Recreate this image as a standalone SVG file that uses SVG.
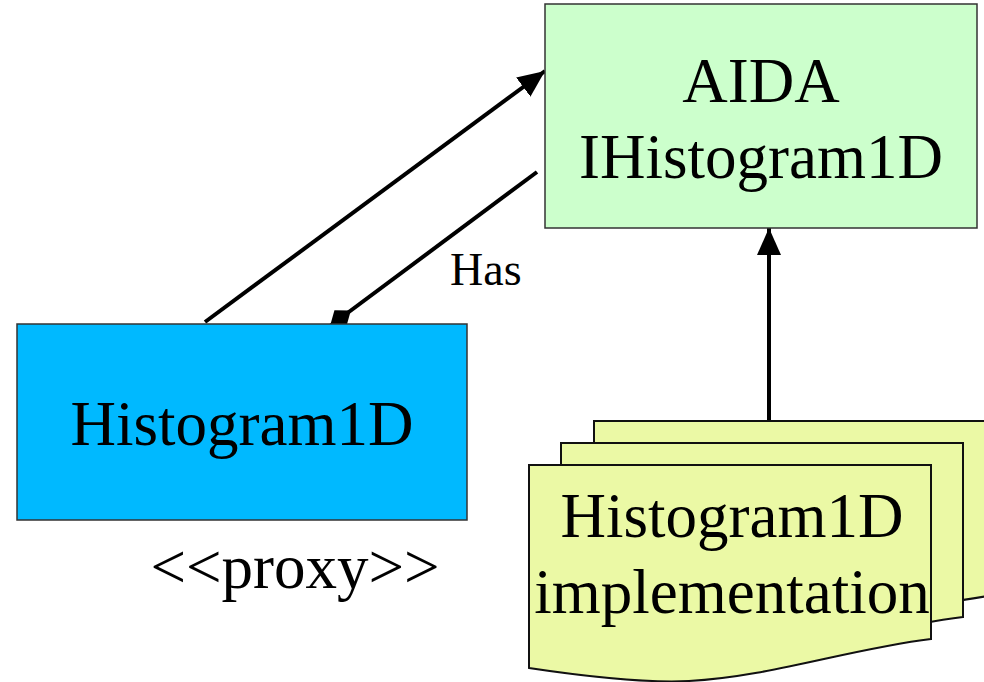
<svg xmlns="http://www.w3.org/2000/svg" width="984" height="682" viewBox="0 0 984 682">
<defs>
<style>
.box{stroke:#333;stroke-width:1.5}
.lbl{font-family:"Liberation Serif","Times New Roman",serif;font-size:63px;fill:#000;text-anchor:middle}
.conn{stroke:#000;stroke-width:4;fill:none}
.page{fill:#EBF9A5;stroke:#111;stroke-width:2}
</style>
<marker id="arrow" viewBox="0 -13 28 26" refX="27" refY="0" markerWidth="28" markerHeight="26" markerUnits="userSpaceOnUse" orient="auto">
<path d="M0,-12 L27,0 L0,12 Z" fill="#000"/>
</marker>
<marker id="diamond" viewBox="0 -11 27 22" refX="26" refY="0" markerWidth="27" markerHeight="22" markerUnits="userSpaceOnUse" orient="auto">
<path d="M0,0 L13,-10 L26,0 L13,10 Z" fill="#000"/>
</marker>
<path id="pageShape" d="M0,0 H402 V174 C320,184 240,212 160,216 C120,218 60,212 0,203 Z"/>
</defs>
<rect width="984" height="682" fill="#fff"/>
<g id="connectors">
<line class="conn" x1="205" y1="322" x2="545" y2="71" marker-end="url(#arrow)"/>
<line class="conn" x1="537" y1="172" x2="330" y2="326" marker-end="url(#diamond)"/>
<line class="conn" x1="769" y1="421" x2="769" y2="228" marker-end="url(#arrow)"/>
<text x="450" y="285" font-family="Liberation Serif, Times New Roman, serif" font-size="46">Has</text>
</g>
<g id="aida">
<rect class="box" x="545" y="4" width="432" height="224" fill="#CCFFCC"/>
<text class="lbl" x="761" y="102">AIDA</text>
<text class="lbl" x="761" y="178">IHistogram1D</text>
</g>
<g id="proxy">
<rect class="box" x="17" y="324" width="450" height="196" fill="#00B9FF"/>
<text class="lbl" x="242" y="445">Histogram1D</text>
<text class="lbl" x="295" y="588">&lt;&lt;proxy&gt;&gt;</text>
</g>
<g id="implementation">
<use href="#pageShape" class="page" transform="translate(594,421)"/>
<use href="#pageShape" class="page" transform="translate(561,443)"/>
<use href="#pageShape" class="page" transform="translate(529,465)"/>
<text class="lbl" x="732" y="537">Histogram1D</text>
<text class="lbl" x="732" y="613">implementation</text>
</g>
</svg>
